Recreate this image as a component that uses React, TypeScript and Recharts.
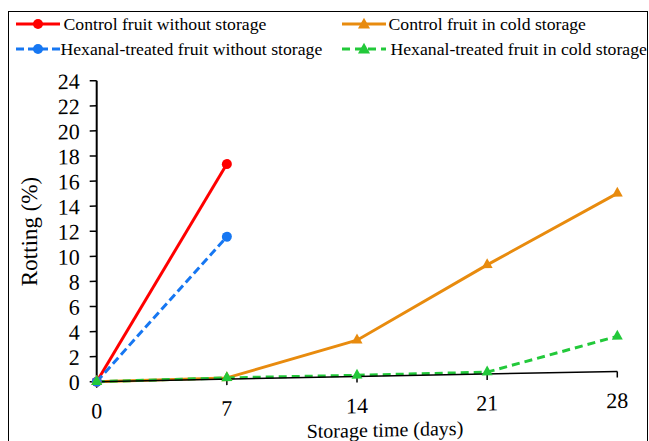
import { LineChart, Line, XAxis, YAxis } from "recharts";

// storage time (days)
const days = [0, 7, 14, 21, 28];

// rotting (%) per series, null = not measured
const controlNoStorage = [0, 17.15, null, null, null];
const hexanalNoStorage = [0, 11.36, null, null, null];
const controlCold = [0, 0.1, 2.9, 8.7, 14.2];
const hexanalCold = [0, 0.1, 0.1, 0.15, 2.8];

const yTicks = [0, 2, 4, 6, 8, 10, 12, 14, 16, 18, 20, 22, 24];

const series = [
  { key: "ctrlNo", name: "Control fruit without storage", color: "#ff0000", dash: undefined, marker: "circle" },
  { key: "hexNo", name: "Hexanal-treated fruit without storage", color: "#1677f2", dash: "8 4", marker: "circle" },
  { key: "ctrlCold", name: "Control fruit in cold storage", color: "#e88b0e", dash: undefined, marker: "triangle" },
  { key: "hexCold", name: "Hexanal-treated fruit in cold storage", color: "#22c93a", dash: "8 5", marker: "triangle" },
];

const data = days.map((day, i) => ({
  day,
  ctrlNo: controlNoStorage[i],
  hexNo: hexanalNoStorage[i],
  ctrlCold: controlCold[i],
  hexCold: hexanalCold[i],
}));

const FONT = "'Liberation Serif', 'Times New Roman', serif";

// the source figure is slightly sheared (x axis climbs to the right)
const skewCss = `.rot-chart .recharts-wrapper > svg.recharts-surface{transform:skewY(-1.13deg);transform-origin:87.7px 0px;}`;

function Triangle({ cx, cy, color, size = 11 }: { cx: number; cy: number; color: string; size?: number }) {
  const h = size * 0.9;
  return (
    <polygon
      points={`${cx},${cy - (h * 2) / 3} ${cx - size / 2},${cy + h / 3} ${cx + size / 2},${cy + h / 3}`}
      fill={color}
    />
  );
}

function triangleDot(color: string) {
  return (p: any) => {
    if (p.cy == null || p.value == null) return <g key={`t-${p.index}`} />;
    return <Triangle key={`t-${p.index}`} cx={p.cx} cy={p.cy} color={color} />;
  };
}

function LegendIcon({ s }: { s: (typeof series)[number] }) {
  return (
    <svg width={44} height={14} style={{ display: "block", flex: "none" }}>
      <line x1={0} y1={7} x2={44} y2={7} stroke={s.color} strokeWidth={3} strokeDasharray={s.dash} />
      {s.marker === "circle" ? (
        <circle cx={22} cy={7} r={5} fill={s.color} />
      ) : (
        <Triangle cx={22} cy={8} color={s.color} size={12} />
      )}
    </svg>
  );
}

function ChartLegend() {
  // slot per series: [icon x, text x, row centre y]
  const slots = [
    [6.5, 54.5, 12],
    [6.5, 51.5, 37.3],
    [332.5, 379.5, 12],
    [332.5, 381.5, 37.3],
  ];
  return (
    <>
      {series.map((s, i) => {
        const [ix, tx, cy] = slots[i];
        return (
          <div
            key={s.key}
            style={{
              position: "absolute",
              left: ix,
              top: cy - 10,
              height: 20,
              display: "flex",
              alignItems: "center",
              whiteSpace: "nowrap",
              fontFamily: FONT,
              fontSize: 17.7,
              color: "#000",
            }}
          >
            <LegendIcon s={s} />
            <span style={{ marginLeft: tx - ix - 44 }}>{s.name}</span>
          </div>
        );
      })}
    </>
  );
}

export default function App() {
  return (
    <div
      style={{
        position: "absolute",
        left: 8,
        top: 11,
        width: 640,
        height: 430,
        boxSizing: "border-box",
        border: "1px solid #000",
        borderBottom: "none",
        overflow: "hidden",
        background: "#fff",
      }}
    >
      <style>{skewCss}</style>
      <div className="rot-chart" style={{ position: "absolute", left: 0, top: 0 }}>
        <LineChart
          width={638}
          height={446}
          data={data}
          margin={{ top: 68.7, right: 29.7, bottom: 16.3, left: 7.7 }}
        >
          <XAxis
            dataKey="day"
            type="number"
            domain={[0, 28]}
            ticks={days}
            allowDecimals={false}
            height={60}
            tickSize={6}
            tickMargin={15}
            axisLine={{ stroke: "#000", strokeWidth: 1.5 }}
            tickLine={{ stroke: "#000", strokeWidth: 1.5 }}
            tick={{ fill: "#000", fontSize: 22, fontFamily: FONT }}
            label={{
              value: "Storage time (days)",
              position: "insideBottom",
              offset: -0.5,
              dx: 28,
              fill: "#000",
              fontSize: 20,
              fontFamily: FONT,
            }}
          />
          <YAxis
            type="number"
            domain={[0, 24]}
            ticks={yTicks}
            interval={0}
            width={80}
            tickSize={7}
            tickMargin={10}
            axisLine={{ stroke: "#000", strokeWidth: 2 }}
            tickLine={{ stroke: "#000", strokeWidth: 1.5 }}
            tick={{ fill: "#000", fontSize: 22, fontFamily: FONT }}
            label={{
              value: "Rotting (%)",
              angle: -90,
              position: "center",
              dx: -27.5,
              dy: -1,
              fill: "#000",
              fontSize: 23,
              fontFamily: FONT,
            }}
          />
          {series.map((s) => (
            <Line
              key={s.key}
              dataKey={s.key}
              name={s.name}
              type="linear"
              stroke={s.color}
              strokeWidth={3}
              strokeDasharray={s.dash}
              connectNulls={false}
              isAnimationActive={false}
              activeDot={false}
              dot={
                s.marker === "circle"
                  ? { r: 5, fill: s.color, stroke: s.color, strokeWidth: 0 }
                  : triangleDot(s.color)
              }
            />
          ))}
        </LineChart>
      </div>
      <ChartLegend />
    </div>
  );
}
